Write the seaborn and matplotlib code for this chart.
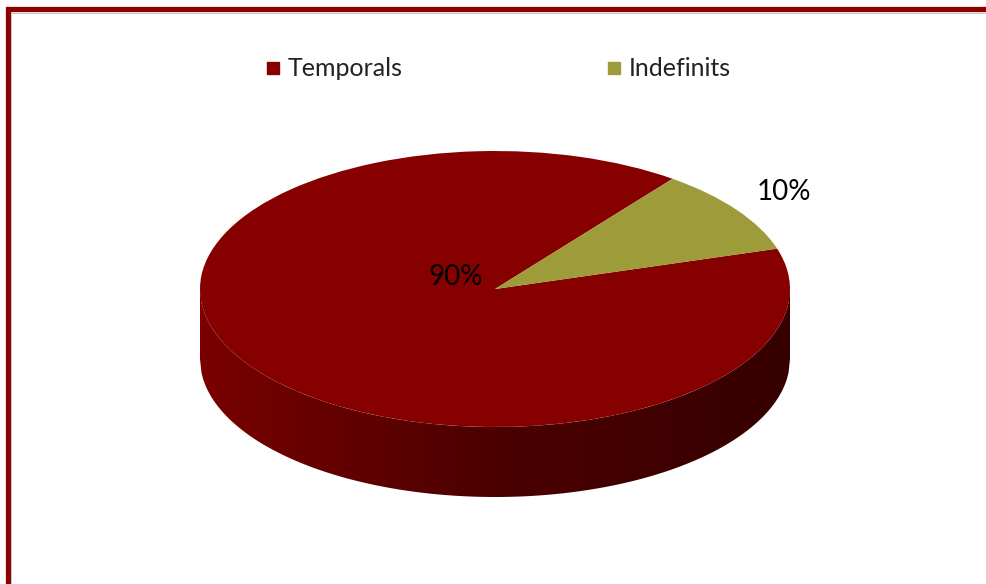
import numpy as np
import matplotlib
matplotlib.use("Agg")
import matplotlib.pyplot as plt
import seaborn as sns
from matplotlib.lines import Line2D
from matplotlib.patches import Rectangle, Polygon
from matplotlib.colors import LinearSegmentedColormap

categories = ["Temporals", "Indefinits"]
values = [90, 10]
colors = ["#870000", "#9d9b3a"]

sns.set_theme(style="white")
plt.rcParams['font.family'] = ['Lato', 'DejaVu Sans']

W, H = 986, 584
fig = plt.figure(figsize=(W / 100, H / 100), dpi=100)
fig.patch.set_facecolor("white")

# geometry (pixels)
cx, cy_top = 495, 289
a, b = 295, 138
depth = 70
d = depth / b

left = (cx - a) / W
width = 2 * a / W
bottom = (H - (cy_top + b + depth)) / H
height = (2 * b + depth) / H
ax = fig.add_axes([left, bottom, width, height])

# side of the 3D pie (gradient band clipped to the side outline)
xs = np.linspace(-1, 1, 400)
lower = -np.sqrt(np.clip(1 - xs ** 2, 0, 1))
outline = np.vstack([np.column_stack([xs, lower]),
                     np.column_stack([xs[::-1], lower[::-1] - d])])
side = Polygon(outline, closed=True, facecolor='none', edgecolor='none')
ax.add_patch(side)
side_cmap = LinearSegmentedColormap.from_list(
    "side", [(0.0, "#7a0000"), (0.2, "#660000"), (0.5, "#4c0000"),
             (0.8, "#3e0000"), (1.0, "#360000")])
grad = np.linspace(0, 1, 512).reshape(1, -1)
im = ax.imshow(grad, extent=[-1, 1, -1 - d, 0], aspect='auto', cmap=side_cmap,
               interpolation='bilinear', zorder=0)
im.set_clip_path(side)

wedges, _ = ax.pie(values, colors=colors, startangle=17, counterclock=False,
                   radius=1, center=(0, 0), wedgeprops=dict(linewidth=0))
for w in wedges:
    w.set_zorder(2)
ax.set_aspect('auto')
ax.set_xlim(-1, 1)
ax.set_ylim(-1 - d, 1)
ax.axis('off')

# percentage labels
total = sum(values)
pct = [f"{v / total:.0%}" for v in values]
ax.text((456 - cx) / a, (cy_top - 277) / b, pct[0], ha='center', va='center',
        fontsize=20, color='black', zorder=5)
ax.text((784 - cx) / a, (cy_top - 192) / b, pct[1], ha='center', va='center',
        fontsize=20, color='black', zorder=5)

# legend
handles = [Line2D([0], [0], marker='s', linestyle='none', markersize=8.6,
                  markerfacecolor=c, markeredgecolor=c) for c in colors]
fig.legend(handles, categories, loc='center', bbox_to_anchor=(499 / W, 1 - 69 / H),
           ncol=2, frameon=False, fontsize=18, columnspacing=8.2,
           handlelength=0.5, handletextpad=0.35, labelcolor='#222222')

# frame
fig.patches.append(Rectangle((7.5 / W, -0.1), 1.2, 1 - 9.5 / H + 0.1, transform=fig.transFigure,
                             fill=False, edgecolor='#8b0000', linewidth=3.8, zorder=10))
fig.patches.append(Rectangle((10.6 / W, -0.1), 1.2, 1 - 12.6 / H + 0.1, transform=fig.transFigure,
                             fill=False, edgecolor='#c8c8c8', linewidth=0.8, zorder=10))

fig.savefig("out.png", dpi=100)
